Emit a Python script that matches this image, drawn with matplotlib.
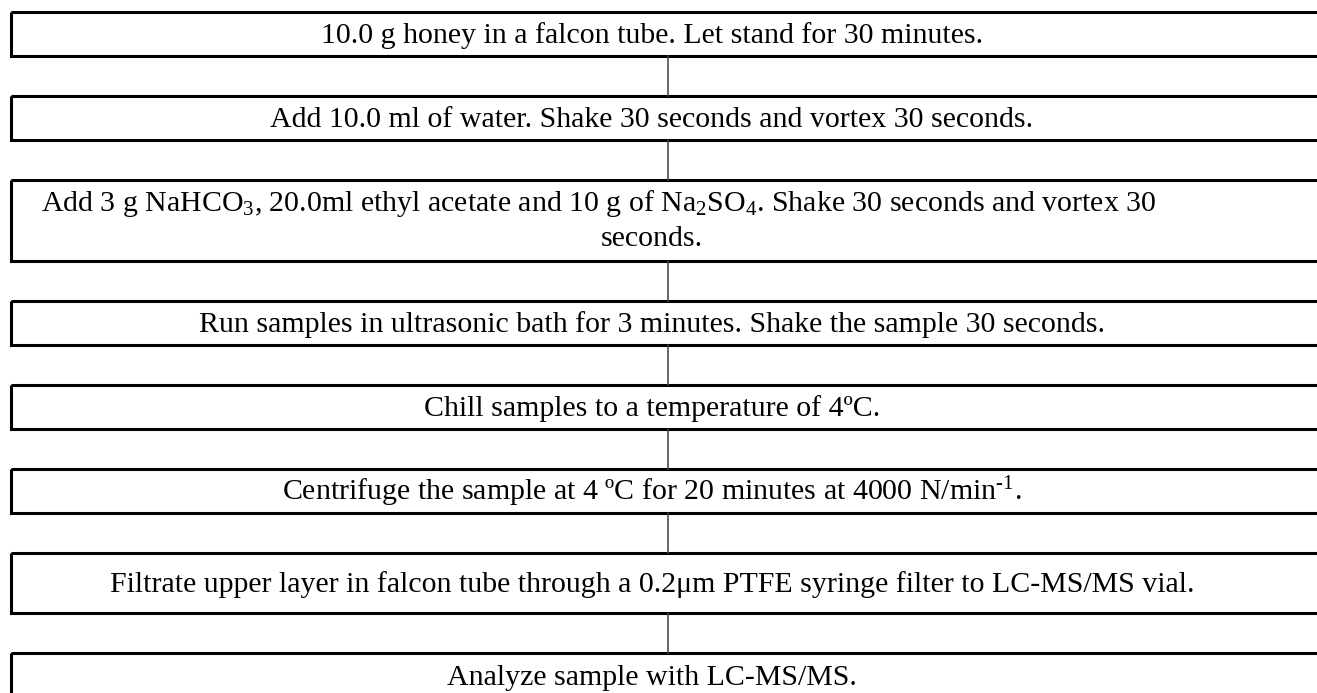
#!/usr/bin/env python3
import matplotlib
matplotlib.use("Agg")
import matplotlib.pyplot as plt
from matplotlib.patches import Rectangle

plt.rcParams['font.family'] = ['Liberation Serif', 'DejaVu Serif']
plt.rcParams['mathtext.fontset'] = 'custom'
plt.rcParams['mathtext.rm'] = 'Liberation Serif'
plt.rcParams['mathtext.default'] = 'regular'

# Steps of the sample preparation (each entry is a list of text lines)
steps = [
    ["10.0 g honey in a falcon tube. Let stand for 30 minutes."],
    ["Add 10.0 ml of water. Shake 30 seconds and vortex 30 seconds."],
    ["Add 3 g NaHCO$_3$, 20.0ml ethyl acetate and 10 g of Na$_2$SO$_4$. Shake 30 seconds and vortex 30",
     "seconds."],
    ["Run samples in ultrasonic bath for 3 minutes. Shake the sample 30 seconds."],
    ["Chill samples to a temperature of 4ºC."],
    ["Centrifuge the sample at 4 ºC for 20 minutes at 4000 N/min$^{\\text{-1}}$."],
    ["Filtrate upper layer in falcon tube through a 0.2μm PTFE syringe filter to LC-MS/MS vial."],
    ["Analyze sample with LC-MS/MS."],
]

# layout in pixel coordinates (top, bottom of each box)
box_top = [12, 96, 180, 301, 385, 469, 553, 653]
box_bot = [56, 140, 261, 345, 429, 513, 613, 720]
line_y = [[43], [127], [211, 246], [332], [416], [500], [592], [685]]
line_x = [[652], [652], [599, 652], [652], [652], [652], [652], [652]]

W, H = 1317, 693
fig = plt.figure(figsize=(W / 100, H / 100), dpi=100)
ax = fig.add_axes([0, 0, 1, 1])
ax.set_xlim(0, W)
ax.set_ylim(H, 0)
ax.axis('off')

left, right = 11, 1340
conn_x = 668

for i, lines in enumerate(steps):
    ax.add_patch(Rectangle((left, box_top[i]), right - left, box_bot[i] - box_top[i],
                           fill=False, edgecolor='black', linewidth=2.2))
    for txt, x, y in zip(lines, line_x[i], line_y[i]):
        ax.text(x, y, txt, ha='center', va='baseline', fontsize=21.5, color='black')
    if i < len(steps) - 1:
        ax.plot([conn_x, conn_x], [box_bot[i], box_top[i + 1]],
                color='#404040', linewidth=1.1)

fig.savefig("out.png", dpi=100)
